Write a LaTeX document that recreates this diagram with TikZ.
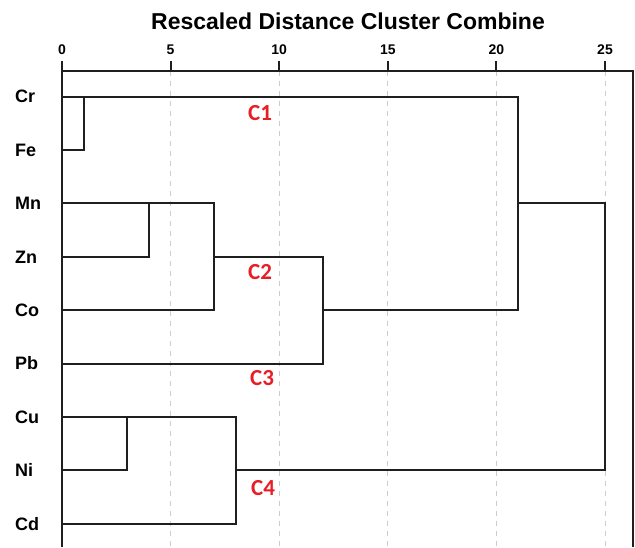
\documentclass[tikz,border=0pt]{standalone}
\usepackage{fontspec}
\setmainfont{Liberation Sans}
\newfontfamily\calib{Carlito}
\definecolor{cred}{RGB}{232,30,38}
\begin{document}
\begin{tikzpicture}[x=1pt,y=-1pt,
  dline/.style={line width=2pt, draw=black!88, line join=miter},
  gridline/.style={draw=black!20, line width=1pt, dash pattern=on 5pt off 5pt},
  leaflab/.style={anchor=base west, font=\fontsize{18}{18}\selectfont\bfseries, inner sep=0pt},
  ticklab/.style={anchor=base, font=\fontsize{14}{14}\selectfont\bfseries, inner sep=0pt},
  clab/.style={anchor=base west, font=\calib\fontsize{23}{23}\selectfont\bfseries, text=cred, inner sep=0pt},
  titlelab/.style={anchor=base, font=\fontsize{23}{23}\selectfont\bfseries, inner sep=0pt}]
\useasboundingbox (0,0) rectangle (635,547);

% grid lines
\foreach \gx in {170.6,279.2,387.8,496.4,605} \draw[gridline] (\gx,71) -- (\gx,547);

% title and axis
\node[titlelab] (title) at (348,29) {Rescaled Distance Cluster Combine};
\foreach \gx/\lab in {62/0,170.6/5,279.2/10,387.8/15,496.4/20,605/25}{
  \node[ticklab] (t\lab) at (\gx,54) {\lab};
  \draw[line width=2pt, draw=black!88] (\gx,61) -- (\gx,71);
}
\draw[dline] (62,547) -- (62,71) -- (633,71) -- (633,547);

% leaves
\foreach \nm/\lab/\yy in {cr/Cr/96.5, fe/Fe/149.9, mn/Mn/203.3, zn/Zn/256.7, co/Co/310.1, pb/Pb/363.5, cu/Cu/416.9, ni/Ni/470.3, cd/Cd/523.7}{
  \node[leaflab] (l\nm) at (15,\yy+6.3) {\lab};
  \coordinate (\nm) at (62,\yy);
}

% junctions
\coordinate (a1) at (83.72,96.5);
\coordinate (a2) at (83.72,149.9);
\coordinate (b1) at (148.88,203.3);
\coordinate (b2) at (148.88,256.7);
\coordinate (c1) at (214.04,203.3);
\coordinate (c2) at (214.04,310.1);
\coordinate (cm) at (214.04,256.7);
\coordinate (d1) at (322.64,256.7);
\coordinate (d2) at (322.64,363.5);
\coordinate (dm) at (322.64,310.1);
\coordinate (e1) at (518.12,96.5);
\coordinate (e2) at (518.12,310.1);
\coordinate (em) at (518.12,203.3);
\coordinate (f1) at (127.16,416.9);
\coordinate (f2) at (127.16,470.3);
\coordinate (g1) at (235.76,416.9);
\coordinate (g2) at (235.76,523.7);
\coordinate (gm) at (235.76,470.3);
\coordinate (h1) at (605,203.3);
\coordinate (h2) at (605,470.3);

\draw[dline] (cr) -- (a1) -- (a2) -- (fe);
\draw[dline] (mn) -- (b1) -- (b2) -- (zn);
\draw[dline] (b1) -- (c1) -- (c2) -- (co);
\draw[dline] (cm) -- (d1) -- (d2) -- (pb);
\draw[dline] (a1) -- (e1) -- (e2) -- (dm);
\draw[dline] (cu) -- (f1) -- (f2) -- (ni);
\draw[dline] (f1) -- (g1) -- (g2) -- (cd);
\draw[dline] (em) -- (h1) -- (h2) -- (gm);

% cluster labels
\node[clab] (C1) at (248,120) {C1};
\node[clab] (C2) at (248,279) {C2};
\node[clab] (C3) at (250,385) {C3};
\node[clab] (C4) at (251,495) {C4};
\end{tikzpicture}
\end{document}
